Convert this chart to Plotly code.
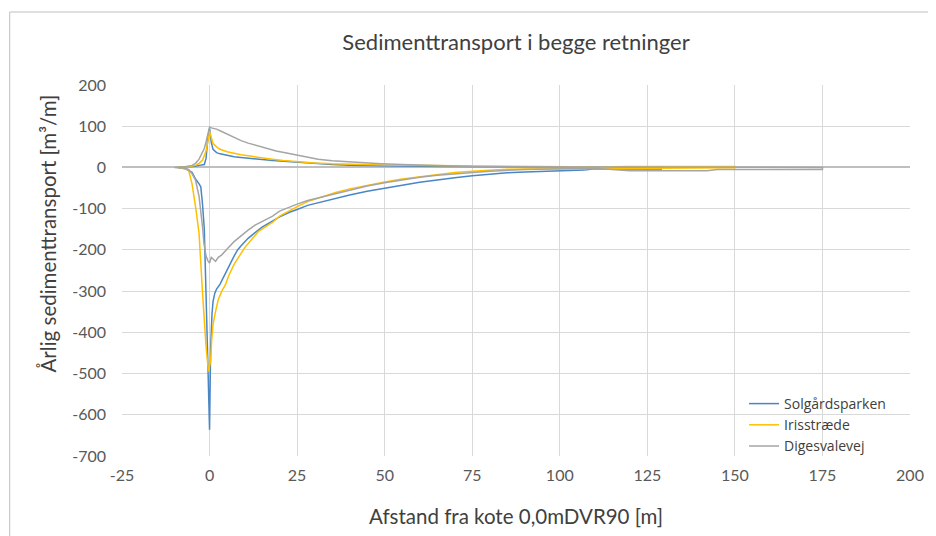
import plotly.graph_objects as go

# ---------------- data ----------------
series_names = ["Solgårdsparken", "Irisstræde", "Digesvalevej"]

# Solgårdsparken – transport in positive direction
solg_pos_x = [-9, -6, -4, -3, -2, -1.5, -1, -0.5, 0, 0.5, 1, 2, 3, 5, 7, 9, 12, 15, 18, 21, 25, 30, 35, 40, 45, 50, 60, 70, 80, 90, 100, 107, 115, 120, 129]
solg_pos_y = [0, 1.5, 3, 5, 6, 7, 22, 70, 95, 60, 44, 36, 33, 29, 26, 24, 21, 19, 17, 15, 12, 9, 7, 5.5, 4.5, 4, 3, 2.5, 2, 1.5, 1.2, 1, 0.5, 0.3, 0]
# Solgårdsparken – transport in negative direction
solg_neg_x = [-9, -7, -5, -4, -3, -2.5, -2, -1.5, -1, -0.5, 0, 0.3, 0.7, 1, 1.5, 2, 3, 4, 5, 6, 7, 8, 9, 11, 13, 15, 17, 20, 23, 25, 28, 32, 36, 40, 45, 50, 55, 60, 65, 70, 75, 80, 85, 90, 95, 100, 107, 110, 115, 120, 129]
solg_neg_y = [0, -3, -12, -28, -40, -47, -90, -150, -300, -470, -636, -440, -355, -325, -305, -295, -283, -265, -250, -232, -215, -200, -190, -172, -158, -145, -135, -120, -108, -102, -92, -83, -75, -67, -58, -50, -43, -36, -30, -25, -20, -16, -13, -11, -9, -8, -6.5, -3, -2.5, -4, -4]

# Irisstræde
iris_pos_x = [-9, -6, -4, -3, -2, -1.5, -1, -0.5, 0, 0.5, 1, 2, 3, 5, 7, 9, 12, 15, 18, 21, 25, 30, 35, 40, 45, 50, 55, 62, 70, 80, 90, 96, 106, 112, 119, 130, 140, 150]
iris_pos_y = [0, 1.5, 5, 10, 18, 28, 40, 62, 88, 72, 58, 50, 44, 38, 34, 31, 27, 23, 20, 17, 14, 11, 9, 7.5, 6.5, 6, 5.5, 5, 4, 3, 2.5, 1.5, 1.5, 1, 2, 2, 2, 2]
iris_neg_x = [-9, -7, -6, -5, -4, -3, -2, -1, -0.3, 0.3, 0.6, 1, 1.7, 2.5, 3.5, 4.5, 5.5, 7, 8.5, 10, 12, 14, 16, 18, 20, 22, 25, 28, 32, 36, 40, 45, 50, 55, 60, 65, 70, 75, 80, 85, 90, 96, 100, 106, 119, 130, 150]
iris_neg_y = [0, -3, -6, -40, -95, -160, -305, -434, -495, -470, -420, -380, -350, -320, -300, -285, -262, -235, -215, -195, -175, -155, -143, -133, -118, -108, -95, -83, -72, -61, -52, -43, -35, -28, -22, -17, -12, -9, -6, -4.5, -3.5, -3, -2.5, -2, -1, -1, -0.5]

# Digesvalevej
dig_pos_x = [-10, -7, -5, -4, -3, -2, -1.5, -1, -0.5, 0, 0.5, 1, 2, 3, 4, 5, 7, 9, 11, 13, 16, 19, 22, 25, 28, 31, 35, 39, 44, 49, 55, 62, 67, 75, 85, 100, 120, 142, 160, 175]
dig_pos_y = [0, 1.5, 5, 10, 20, 35, 46, 62, 82, 98, 96, 95, 93, 89, 85, 81, 72, 65, 59, 54, 47, 40, 35, 30, 25, 20, 16, 13.5, 11, 9, 7, 5.5, 3, 2, 1.5, 1, 0.5, 0.5, 0.3, 0]
dig_neg_x = [-10, -7, -6, -5, -4, -3, -2.5, -2, -1.6, -1, -0.5, 0, 0.5, 1, 1.7, 2.5, 3.5, 5, 7, 9, 11, 13, 16, 18, 20, 23, 25, 28, 32, 36, 40, 45, 50, 55, 60, 65, 70, 75, 80, 90, 100, 110, 120, 142, 145, 175]
dig_neg_y = [0, -2, -5, -15, -31, -70, -103, -145, -184, -215, -226, -232, -218, -222, -228, -218, -212, -198, -180, -165, -152, -140, -127, -118, -106, -96, -89, -80, -71, -63, -55, -45, -37, -30, -24, -19, -15, -12, -9, -5, -3, -2, -8, -8, -5, -5]

x_ticks = [-25, 0, 25, 50, 75, 100, 125, 150, 175, 200]
y_ticks = [200, 100, 0, -100, -200, -300, -400, -500, -600, -700]

colors = ["#4A86C5", "#FFC000", "#A5A5A5"]

# ---------------- figure ----------------
fig = go.Figure()
data_sets = [
    (solg_pos_x, solg_pos_y, solg_neg_x, solg_neg_y),
    (iris_pos_x, iris_pos_y, iris_neg_x, iris_neg_y),
    (dig_pos_x, dig_pos_y, dig_neg_x, dig_neg_y),
]
for name, color, (px, py, nx, ny) in zip(series_names, colors, data_sets):
    # one continuous line: out along the positive branch, back along the negative one
    xs = list(px) + list(reversed(nx))
    ys = list(py) + list(reversed(ny))
    fig.add_trace(go.Scatter(x=xs, y=ys, mode="lines", name=name,
                             line=dict(color=color, width=1.5)))

font_family = "Lato, 'Open Sans', sans-serif"

# page has an 8px body margin -> figure is 928x528 placed at (8, 8)
W, H = 928, 528
ML, MR, MT, MB = 114, 21, 77, 80
PW, PH = W - ML - MR, H - MT - MB          # 793 x 371
PL, PT = 8 + ML, 8 + MT                    # plot-area origin in page pixels
PB = PT + PH

fig.update_layout(
    width=W, height=H,
    margin=dict(l=ML, r=MR, t=MT, b=MB),
    paper_bgcolor="white", plot_bgcolor="white",
    font=dict(family=font_family, color="#595959", size=16),
    title=dict(text="Sedimenttransport i begge retninger", x=0.5, xanchor="center",
               xref="paper", y=1 - (42 - 8) / H, yanchor="middle",
               font=dict(size=22, color="#404040", family=font_family)),
    legend=dict(x=(748 - PL) / PW, y=(PB - 388) / PH, xanchor="left", yanchor="top",
                bgcolor="rgba(0,0,0,0)",
                font=dict(size=14, color="#404040", family="'Open Sans', Lato, sans-serif"),
                itemwidth=30, tracegroupgap=0),
    showlegend=True,
)
fig.update_xaxes(range=[-25, 200], tickvals=x_ticks, ticktext=[str(v) for v in x_ticks],
                 showgrid=True, gridcolor="#D9D9D9", gridwidth=1,
                 zeroline=False, showline=False, ticks="", ticklabelstandoff=8,
                 tickfont=dict(size=16, color="#595959"),
                 title=dict(text="Afstand fra kote 0,0mDVR90 [m]", standoff=26,
                            font=dict(size=20.5, color="#404040")))
fig.update_yaxes(range=[-700, 200], tickvals=y_ticks, ticktext=[str(v) for v in y_ticks],
                 showgrid=True, gridcolor="#D9D9D9", gridwidth=1,
                 zeroline=True, zerolinecolor="#BFBFBF", zerolinewidth=1.5,
                 showline=False, ticks="", ticklabelstandoff=15,
                 tickfont=dict(size=16, color="#595959"))

# y-axis title (placed like the original, slightly above the plot centre)
fig.add_annotation(text="Årlig sedimenttransport [m³/m]", textangle=-90,
                   xref="paper", yref="paper", x=(48 - PL) / PW, y=(PB - 233) / PH,
                   xanchor="center", yanchor="middle", showarrow=False,
                   font=dict(size=20.5, color="#404040", family=font_family))

# outer chart border
fig.add_shape(type="rect", xref="paper", yref="paper",
              x0=(9 - PL) / PW, x1=(934 - PL) / PW,
              y0=(PB - 560) / PH, y1=(PB - 12) / PH,
              line=dict(color="#BFBFBF", width=1), fillcolor="rgba(0,0,0,0)", layer="below")

fig.write_html("out.html")
